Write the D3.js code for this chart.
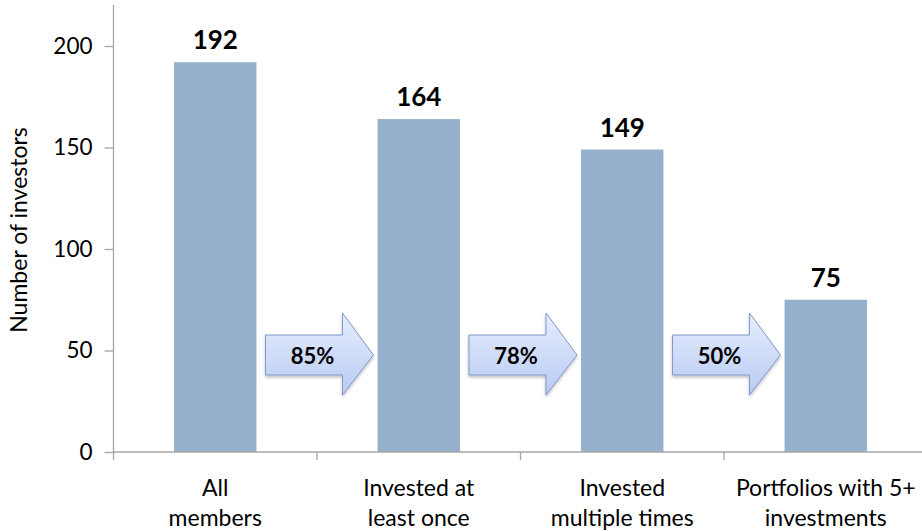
<!DOCTYPE html>
<html>
<head>
<meta charset="utf-8">
<script src="https://cdn.jsdelivr.net/npm/d3@7"></script>
<style>
  html, body { margin: 0; padding: 0; background: #ffffff; }
  svg { display: block; }
  text { font-family: Lato, "Open Sans", sans-serif; }
</style>
</head>
<body>
<svg id="chart" width="922" height="531"></svg>
<script>
const categories = [["All", "members"], ["Invested at", "least once"], ["Invested", "multiple times"], ["Portfolios with 5+", "investments"]];
const values = [192, 164, 149, 75];
const conversionLabels = ["85%", "78%", "50%"];
const yTicks = [0, 50, 100, 150, 200];
const yTitle = "Number of investors";

const svg = d3.select("#chart");
const W = 922, H = 531;
const x0 = 113.5, y0 = 452;

const x = d3.scaleBand().domain(d3.range(categories.length)).range([x0, x0 + 203.5 * 4]).padding(0);
const y = d3.scaleLinear().domain([0, 200]).range([y0, 46]);
const barW = x.bandwidth() * 0.405;

const defs = svg.append("defs");
const grad = defs.append("linearGradient").attr("id", "arrowGrad").attr("x1", 0).attr("y1", 0).attr("x2", 0).attr("y2", 1);
grad.append("stop").attr("offset", "0%").attr("stop-color", "#e6edfd");
grad.append("stop").attr("offset", "100%").attr("stop-color", "#b9cbf3");
const filt = defs.append("filter").attr("id", "shadow").attr("x", "-10%").attr("y", "-10%").attr("width", "130%").attr("height", "140%");
filt.append("feDropShadow").attr("dx", 0).attr("dy", 2).attr("stdDeviation", 1.5).attr("flood-color", "#000").attr("flood-opacity", 0.25);

// bars
svg.append("g").selectAll("rect").data(values).join("rect")
  .attr("x", (d, i) => x(i) + x.bandwidth() / 2 - barW / 2)
  .attr("y", d => y(d))
  .attr("width", barW)
  .attr("height", d => y0 - y(d))
  .attr("fill", "#95b0cc");

// value labels
svg.append("g").selectAll("text").data(values).join("text")
  .attr("x", (d, i) => x(i) + x.bandwidth() / 2)
  .attr("y", d => y(d) - 13)
  .attr("text-anchor", "middle")
  .attr("font-size", 26)
  .attr("font-weight", "bold")
  .attr("fill", "#000")
  .text(d => d);

// y axis
const yAxis = svg.append("g").attr("transform", `translate(${x0},0)`)
  .call(d3.axisLeft(y).tickValues(yTicks).tickSize(9).tickPadding(12));
yAxis.select(".domain").remove();
yAxis.selectAll(".tick line").attr("stroke", "#a6a6a6").attr("stroke-width", 1.3);
yAxis.selectAll(".tick text").attr("font-size", 22.5).attr("fill", "#000").attr("font-family", "Lato, 'Open Sans', sans-serif");
svg.append("line").attr("x1", x0).attr("x2", x0).attr("y1", 5).attr("y2", y0 + 8)
  .attr("stroke", "#a6a6a6").attr("stroke-width", 1.3);

// x axis
svg.append("line").attr("x1", x0).attr("x2", W).attr("y1", y0).attr("y2", y0)
  .attr("stroke", "#a6a6a6").attr("stroke-width", 1.3);
svg.append("g").selectAll("line").data(d3.range(1, categories.length)).join("line")
  .attr("x1", i => x(i)).attr("x2", i => x(i))
  .attr("y1", y0).attr("y2", y0 + 8)
  .attr("stroke", "#a6a6a6").attr("stroke-width", 1.3);

// category labels
const catG = svg.append("g").selectAll("text").data(categories).join("text")
  .attr("x", (d, i) => x(i) + x.bandwidth() / 2)
  .attr("y", 496)
  .attr("text-anchor", "middle")
  .attr("font-size", 23)
  .attr("fill", "#000");
catG.each(function(d, i) {
  const t = d3.select(this);
  d.forEach((line, j) => {
    t.append("tspan").attr("x", x(i) + x.bandwidth() / 2).attr("dy", j === 0 ? 0 : 30).text(line);
  });
});

// y title
svg.append("text")
  .attr("transform", "translate(27,230) rotate(-90)")
  .attr("text-anchor", "middle")
  .attr("font-size", 23)
  .attr("fill", "#000")
  .text(yTitle);

// conversion arrows
const arrows = svg.append("g").selectAll("g").data(conversionLabels).join("g")
  .attr("transform", (d, i) => {
    const left = x(i) + x.bandwidth() / 2 + barW / 2 + 9;
    return `translate(${left},${y(0) - 95})`;
  });
arrows.append("path")
  .attr("d", "M0,-20 L77,-20 L77,-42 L108,0 L77,40 L77,20 L0,20 Z")
  .attr("transform", "translate(0,-2)")
  .attr("fill", "url(#arrowGrad)")
  .attr("stroke", "#7f98c9")
  .attr("stroke-width", 1)
  .attr("filter", "url(#shadow)");
arrows.append("text")
  .attr("x", 47).attr("y", 7)
  .attr("text-anchor", "middle")
  .attr("font-size", 22)
  .attr("font-weight", "bold")
  .attr("fill", "#000")
  .text(d => d);
</script>
</body>
</html>
